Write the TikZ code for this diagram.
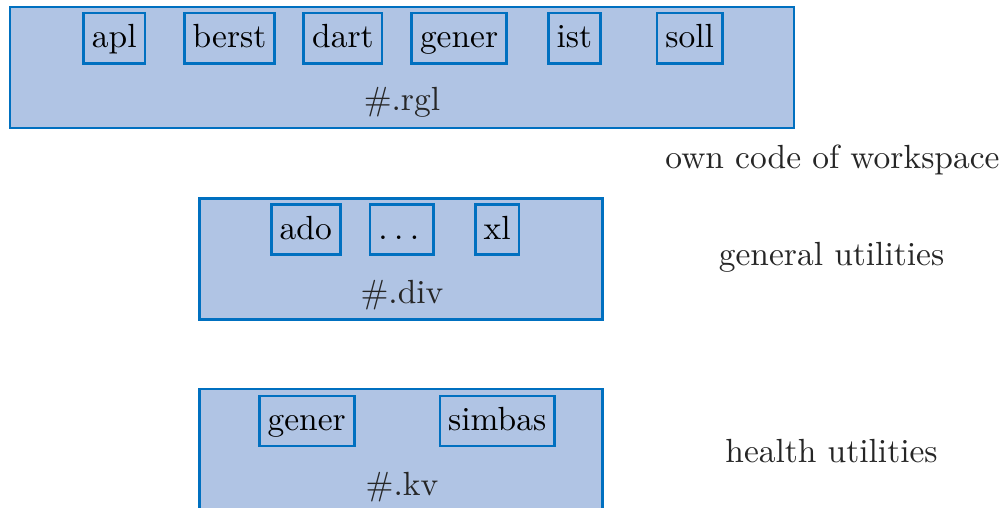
\documentclass[tikz,border=0pt]{standalone}
\usepackage{tikz}

\definecolor{wsfill}{RGB}{176,196,228}
\definecolor{wsline}{RGB}{0,112,192}

\newcommand{\spacedots}{.\kern.19em.\kern.19em.\kern.19em}

\tikzset{
    layer/.style={draw=wsline, fill=wsfill, thick, minimum height=1.27cm},
    unit/.style={draw=wsline, thick, inner xsep=2.5pt, minimum height=15pt, text height=1.6ex, text depth=.25ex},
    tier/.style={text=black!85}
}

\begin{document}
\begin{tikzpicture}
    \clip (0,0) rectangle (10.52,-5.33);

    % the three layers
    \node[layer, minimum width=8.23cm] (RGL) at (4.22,-0.71) {};
    \node[layer, minimum width=4.23cm] (DIV) at (4.21,-2.72) {};
    \node[layer, minimum width=4.23cm] (KV)  at (4.21,-4.72) {};

    % #.rgl
    \node[unit] (apl)   at (1.20,-0.40) {apl};
    \node[unit] (berst) at (2.41,-0.40) {berst};
    \node[unit] (dart)  at (3.60,-0.40) {dart};
    \node[unit] (gener) at (4.82,-0.40) {gener};
    \node[unit] (ist)   at (6.03,-0.40) {ist};
    \node[unit] (soll)  at (7.24,-0.40) {soll};
    \node[tier] (rgl) at (4.22,-1.07) {\#.rgl};

    % #.div
    \node[unit] (ado)  at (3.21,-2.41) {ado};
    \node[unit] (more) at (4.22,-2.41) {\spacedots};
    \node[unit] (xl)   at (5.22,-2.41) {xl};
    \node[tier] (div) at (4.22,-3.10) {\#.div};

    % #.kv
    \node[unit] (kvgener) at (3.22,-4.42) {gener};
    \node[unit] (simbas)  at (5.22,-4.42) {simbas};
    \node[tier] (kv) at (4.22,-5.11) {\#.kv};

    % what each layer holds
    \node[tier] (own)    at (8.74,-1.68) {own code of workspace};
    \node[tier] (gen)    at (8.73,-2.70) {general utilities};
    \node[tier] (health) at (8.73,-4.74) {health utilities};

\end{tikzpicture}
\end{document}
